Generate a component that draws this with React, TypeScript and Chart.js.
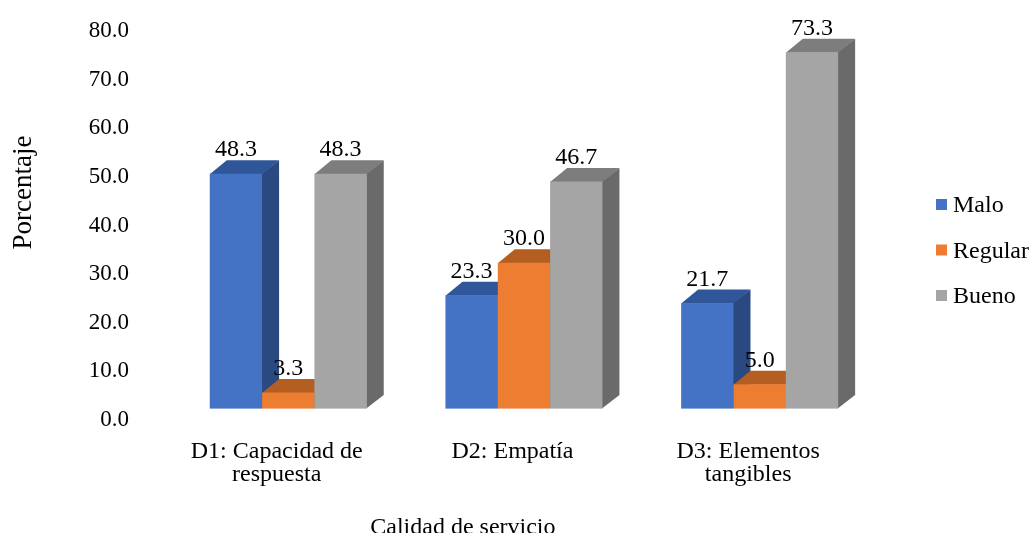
import React, { useEffect, useRef } from 'react';
import { Chart, registerables } from 'chart.js';

Chart.register(...registerables);

// Dimensions of service quality
const categories: string[][] = [
  ['D1: Capacidad de', 'respuesta'],
  ['D2: Empatía'],
  ['D3: Elementos', 'tangibles'],
];

const seriesNames = ['Malo', 'Regular', 'Bueno'];

// Percentages per rating
const malo = [48.3, 23.3, 21.7];
const regular = [3.3, 30.0, 5.0];
const bueno = [48.3, 46.7, 73.3];

const yMin = 0;
const yMax = 80;
const yStep = 10;

const xTitle = 'Calidad de servicio';
const yTitle = 'Porcentaje';

const FONT = "'Liberation Serif', 'Times New Roman', serif";

// Front / top / side shades of each series' 3D column
const shades = [
  { front: '#4472C4', top: '#30569A', side: '#2A4980' },
  { front: '#ED7D31', top: '#B45E22', side: '#A3541D' },
  { front: '#A5A5A5', top: '#7D7D7D', side: '#6A6A6A' },
];

// Oblique projection of the columns
const DEPTH_X = 17;
const DEPTH_Y = -13.5;
const SHIFT_X = 11.5;
const SHIFT_Y = -11.4;

type Box = { l: number; r: number; t: number; b: number };

function columnBox(chart: any, di: number, j: number): Box {
  const el: any = chart.getDatasetMeta(di).data[j];
  const y = chart.scales.y;
  const { x, width } = el.getProps(['x', 'width'], true);
  const v = chart.data.datasets[di].data[j] as number;
  const l = x - width / 2 + SHIFT_X;
  return {
    l,
    r: l + width,
    t: y.getPixelForValue(v) + SHIFT_Y,
    b: y.getPixelForValue(0) + SHIFT_Y,
  };
}

function poly(ctx: CanvasRenderingContext2D, pts: number[][], color: string) {
  ctx.beginPath();
  ctx.moveTo(pts[0][0], pts[0][1]);
  for (let k = 1; k < pts.length; k++) ctx.lineTo(pts[k][0], pts[k][1]);
  ctx.closePath();
  ctx.fillStyle = color;
  ctx.fill();
}

const columns3d = {
  id: 'columns3d',
  beforeDatasetsDraw(chart: any) {
    const ctx: CanvasRenderingContext2D = chart.ctx;
    const n = chart.data.labels.length;
    ctx.save();
    for (let j = 0; j < n; j++) {
      chart.data.datasets.forEach((_: any, di: number) => {
        const c = shades[di];
        const { l, r, t, b } = columnBox(chart, di, j);
        poly(ctx, [[r - 0.5, b], [r + DEPTH_X, b + DEPTH_Y], [r + DEPTH_X, t + DEPTH_Y], [r - 0.5, t]], c.side);
        poly(ctx, [[l, t + 0.5], [l + DEPTH_X, t + DEPTH_Y], [r + DEPTH_X, t + DEPTH_Y], [r, t + 0.5]], c.top);
        ctx.fillStyle = c.front;
        ctx.fillRect(l, t, r - l, b - t);
      });
    }
    ctx.restore();
    return false;
  },
  afterDraw(chart: any) {
    const ctx: CanvasRenderingContext2D = chart.ctx;
    const area = chart.chartArea;
    ctx.save();
    ctx.fillStyle = '#000';

    // value labels above each column
    ctx.font = `24px ${FONT}`;
    ctx.textAlign = 'center';
    ctx.textBaseline = 'alphabetic';
    const n = chart.data.labels.length;
    for (let j = 0; j < n; j++) {
      chart.data.datasets.forEach((ds: any, di: number) => {
        const { l, r, t } = columnBox(chart, di, j);
        ctx.fillText((ds.data[j] as number).toFixed(1), (l + r) / 2, t + DEPTH_Y - 4);
      });
    }

    // axis titles
    ctx.font = `24px ${FONT}`;
    ctx.fillText(xTitle, area.left + 304, chart.height + 0.5);
    ctx.save();
    ctx.translate(30.5, 192.5);
    ctx.rotate(-Math.PI / 2);
    ctx.font = `27px ${FONT}`;
    ctx.fillText(yTitle, 0, 0);
    ctx.restore();

    // legend
    ctx.font = `24px ${FONT}`;
    ctx.textAlign = 'left';
    chart.data.datasets.forEach((ds: any, di: number) => {
      const base = 212 + di * 45.5;
      const bx = area.right + 70;
      ctx.fillStyle = shades[di].front;
      ctx.fillRect(bx, base - 13, 11, 11);
      ctx.fillStyle = '#000';
      ctx.fillText(ds.label, bx + 17, base);
    });
    ctx.restore();
  },
};

export default function App() {
  const canvasRef = useRef<HTMLCanvasElement | null>(null);

  useEffect(() => {
    document.body.style.margin = '0';
    const canvas = canvasRef.current;
    if (!canvas) return;
    const series = [malo, regular, bueno];
    const chart = new Chart(canvas, {
      type: 'bar',
      data: {
        labels: categories,
        datasets: series.map((values, i) => ({
          label: seriesNames[i],
          data: values,
          backgroundColor: shades[i].front,
          categoryPercentage: 0.666,
          barPercentage: 1,
        })),
      },
      options: {
        responsive: false,
        animation: false,
        devicePixelRatio: 1,
        layout: { padding: { top: 31, right: 164, bottom: 0, left: 0 } },
        plugins: {
          legend: { display: false },
          tooltip: { enabled: false },
        },
        scales: {
          x: {
            grid: { display: false },
            border: { display: false },
            ticks: {
              color: '#000',
              padding: 12.5,
              maxRotation: 0,
              autoSkip: false,
              font: { family: FONT, size: 24, lineHeight: 0.96 },
            },
            afterFit: (s: any) => {
              s.height = 113;
            },
          },
          y: {
            min: yMin,
            max: yMax,
            grid: { display: false },
            border: { display: false },
            ticks: {
              stepSize: yStep,
              color: '#000',
              padding: 22,
              font: { family: FONT, size: 23, lineHeight: 0.5 },
              callback: (v: any) => Number(v).toFixed(1),
            },
            afterFit: (s: any) => {
              s.width = 158.9;
            },
          },
        },
      },
      plugins: [columns3d],
    });
    return () => chart.destroy();
  }, []);

  return (
    <div style={{ width: 1030, height: 533, position: 'relative', background: '#fff' }}>
      <canvas ref={canvasRef} width={1030} height={533} />
    </div>
  );
}
